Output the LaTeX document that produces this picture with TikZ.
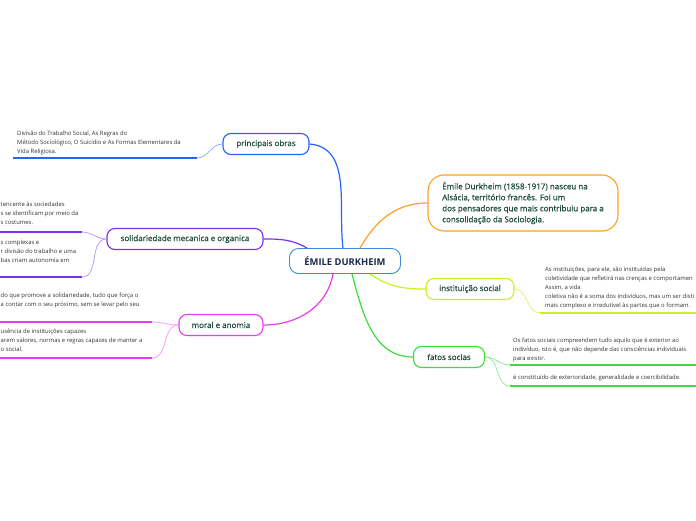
\documentclass[tikz,border=0pt]{standalone}
\usepackage{fontspec}
\setmainfont{Open Sans}
\newfontfamily\medfont{Open Sans}[FakeBold=0.5]
\definecolor{txt}{HTML}{1E4D3C}
\definecolor{notetxt}{HTML}{333333}
\definecolor{cmain}{HTML}{3D8BD6}
\definecolor{cobras}{HTML}{2563FF}
\definecolor{csolid}{HTML}{7B2FF2}
\definecolor{cmoral}{HTML}{E83CF0}
\definecolor{cemile}{HTML}{FFA024}
\definecolor{cinst}{HTML}{CCEE22}
\definecolor{cfatos}{HTML}{3EDB3E}
\begin{document}
\begin{tikzpicture}[x=1pt, y=1pt,
  topic/.style={draw, line width=1.1pt, rounded corners=8pt, fill=white, text=txt,
    font=\medfont\fontsize{8}{9}\selectfont, inner sep=0pt, minimum height=21pt},
  note/.style={text=notetxt, font=\fontsize{5.9}{9}\selectfont, align=left, inner sep=0pt, anchor=north west},
  link/.style={line width=1.2pt},
  twig/.style={line width=0.7pt},
  under/.style={line width=1.6pt}]

\useasboundingbox (0,0) rectangle (696,520);
\clip (0,0) rectangle (696,520);

% centro
\node[draw=cmain, line width=0.9pt, rounded corners=9pt, fill=white, text={rgb,255:red,27;green,42;blue,71},
  font=\fontsize{9.4}{11}\bfseries, minimum width=111pt, minimum height=25pt] (dk) at (345,259) {ÉMILE DURKHEIM};

% ramos
\node[topic, draw=cobras, minimum width=86pt] (obras) at (266,376) {principais obras};
\node[topic, draw=csolid, minimum width=156pt] (solid) at (185,281) {solidariedade mecanica e organica};
\node[topic, draw=cmoral, minimum width=84pt] (moral) at (221,195) {moral e anomia};
\node[topic, draw=cemile, rounded corners=16pt, minimum width=190pt, minimum height=56pt, align=left,
  font=\medfont\fontsize{8}{11}\selectfont] (emile) at (523,317)
  {Émile Durkheim (1858-1917) nasceu na\\Alsácia, território francês. Foi um\\dos pensadores que mais contribuiu para a\\consolidação da Sociologia.};
\node[topic, draw=cinst, minimum width=88pt] (inst) at (470,231) {instituição social};
\node[topic, draw=cfatos, minimum width=71pt] (fatos) at (449,163) {fatos socias};

\draw[link, cobras] ([xshift=-2pt]dk.north) to[out=97,in=-5] (obras.east);
\draw[link, csolid] ([xshift=-38pt]dk.north) to[out=150,in=0] (solid.east);
\draw[link, cmoral] ([xshift=-12pt]dk.south) to[out=-100,in=0] (moral.east);
\draw[link, cemile] ([xshift=15pt]dk.north) to[out=60,in=180] (emile.west);
\draw[link, cinst] ([xshift=25pt]dk.south) to[out=-35,in=180] (inst.west);
\draw[link, cfatos] ([xshift=7pt]dk.south) to[out=-75,in=180] (fatos.west);

% principais obras
\coordinate (obrasL) at (13,362);
\coordinate (obrasR) at (197,362);
\draw[under, cobras] (obrasL) -- (obrasR);
\draw[twig, cobras!55] (obras.west) to[out=180,in=0] (obrasR);
\node[note] (obrasT) at (17,389) {Divisão do Trabalho Social, As Regras do\\Método Sociológico, O Suicídio e As Formas Elementares da\\Vida Religiosa.};

% solidariedade
\coordinate (solidAL) at (0,288);
\coordinate (solidA) at (82,288);
\coordinate (solidBL) at (0,243);
\coordinate (solidB) at (82,243);
\draw[under, csolid] (solidAL) -- (solidA);
\draw[under, csolid] (solidBL) -- (solidB);
\draw[twig, csolid!55] (solid.west) to[out=180,in=0] (solidA);
\draw[twig, csolid!55] (solid.west) to[out=180,in=0] (solidB);
\node[note] (solidTA) at (0.5,318) {tencente às sociedades\\s se identificam por meio da\\s costumes.};
\node[note] (solidTB) at (0.5,280) {s complexas e\\r divisão do trabalho e uma\\bas criam autonomia em};

% moral e anomia
\coordinate (moralAL) at (0,198);
\coordinate (moralA) at (152,198);
\coordinate (moralBL) at (0,162);
\coordinate (moralB) at (152,162);
\draw[under, cmoral] (moralAL) -- (moralA);
\draw[under, cmoral] (moralBL) -- (moralB);
\draw[twig, cmoral!55] (moral.west) to[out=180,in=0] (moralA);
\draw[twig, cmoral!55] (moral.west) to[out=180,in=0] (moralB);
\node[note] (moralTA) at (0.5,227) {do que promove a solidariedade, tudo que força o\\a contar com o seu próximo, sem se levar pelo seu};
\node[note] (moralTB) at (0.5,191) {usência de instituições capazes\\arem valores, normas e regras capazes de manter a\\o social.};

% instituição social
\coordinate (instL) at (540,207);
\coordinate (instR) at (696,207);
\draw[under, cinst] (instL) -- (instR);
\draw[twig, cinst!70] (inst.east) to[out=0,in=180] (instL);
\node[note] (instT) at (545,253) {As instituições, para ele, são instituídas pela\\coletividade que refletirá nas crenças e comportamen\\Assim, a vida\\coletiva não é a soma dos indivíduos, mas um ser disti\\mais complexo e irredutível às partes que o formam.};

% fatos socias
\coordinate (fatosA) at (510,155);
\coordinate (fatosAR) at (696,155);
\coordinate (fatosB) at (510,134);
\coordinate (fatosBR) at (696,134);
\draw[under, cfatos] (fatosA) -- (fatosAR);
\draw[under, cfatos] (fatosB) -- (fatosBR);
\draw[twig, cfatos!60] (fatos.east) to[out=0,in=180] (fatosA);
\draw[twig, cfatos!60] (fatos.east) to[out=0,in=180] (fatosB);
\node[note] (fatosTA) at (513,182) {Os fatos sociais compreendem tudo aquilo que é exterior ao\\indivíduo, isto é, que não depende das consciências individuais\\para existir.};
\node[note] (fatosTB) at (513,145) {é constituído de exterioridade, generalidade e coercibilidade.};

\end{tikzpicture}
\end{document}
